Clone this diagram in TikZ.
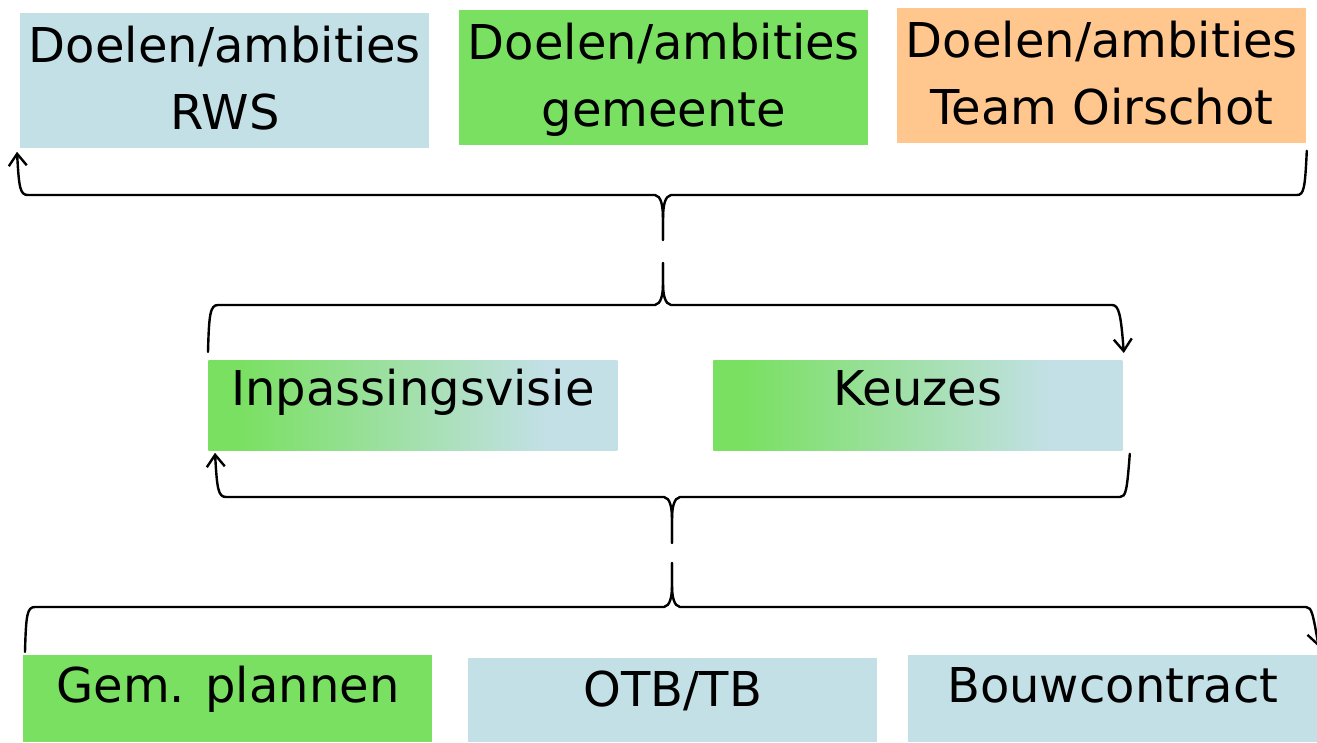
\documentclass[tikz,border=0pt]{standalone}
\usepackage{fontspec}
\setmainfont{DejaVu Sans}
\usetikzlibrary{arrows.meta}
\definecolor{rwsblue}{RGB}{194,224,229}
\definecolor{gemgreen}{RGB}{122,224,98}
\definecolor{teamorange}{RGB}{255,198,142}
\pgfdeclarehorizontalshading{greenblue}{100bp}{color(0bp)=(gemgreen); color(29bp)=(gemgreen); color(66bp)=(rwsblue); color(100bp)=(rwsblue)}

\begin{document}
\begin{tikzpicture}[x=0.5pt,y=-0.5pt,
  box/.style={anchor=north west, inner sep=0pt, align=center,
    font=\fontsize{24}{33.5}\selectfont, minimum width=204.5pt},
  goal/.style={box, minimum height=67.5pt, text depth=3pt},
  pick/.style={box, minimum height=45pt, shade, shading=greenblue, text height=18pt, text depth=18pt},
  plan/.style={box, minimum height=43.5pt, text height=12pt, text depth=8.5pt},
  line/.style={line width=1.2pt, line cap=round},
  >={Straight Barb[length=6pt,width=9pt]}]
\useasboundingbox (0,0) rectangle (1317,743);

% doelen
\node[goal, fill=rwsblue] (rws) at (20,13) {Doelen/ambities\\RWS};
\node[goal, fill=gemgreen] (gem) at (459,10) {Doelen/ambities\\gemeente};
\node[goal, fill=teamorange] (team) at (897,8) {Doelen/ambities\\Team Oirschot};

% visie en keuzes
\node[pick] (visie) at (208,360) {Inpassingsvisie};
\node[pick] (keuzes) at (713,360) {Keuzes};

% uitwerking
\node[plan, fill=gemgreen] (plannen) at (23,655) {Gem. plannen};
\node[plan, fill=rwsblue, minimum height=42pt, text height=12pt, text depth=6pt] (otb) at (468,658) {OTB/TB};
\node[plan, fill=rwsblue] (bouw) at (908,655) {Bouwcontract};

% eindpunten van de accolades
\coordinate (rwsin) at ([shift={(-3,3)}]rws.south west);
\coordinate (teamin) at ([shift={(0,7)}]team.south east);
\coordinate (tipa) at (663,240);
\coordinate (tipb) at (663,263);
\coordinate (visiein) at ([shift={(0,-8)}]visie.north west);
\coordinate (keuzesin) at ([shift={(1,-7)}]keuzes.north east);
\coordinate (visieout) at ([shift={(7,2)}]visie.south west);
\coordinate (keuzesout) at ([shift={(7,3)}]keuzes.south east);
\coordinate (tipc) at (672,543);
\coordinate (tipd) at (672,563);
\coordinate (planin) at ([shift={(2,-3)}]plannen.north west);
\coordinate (bouwin) at ([shift={(1,-8)}]bouw.north east);

% accolade boven
\draw[line,<-] (rwsin) .. controls (19,188) and (20,195) .. (28,195) -- (655,195)
  .. controls (661,196) and (663,205) .. (663,220) -- (tipa);
\draw[line] (tipa) -- (663,220) .. controls (663,205) and (665,196) .. (671,195) -- (1297,195)
  .. controls (1304,195) and (1305,188) .. (teamin);

% accolade midden
\draw[line] (visiein) .. controls (209,315) and (210,305) .. (218,305) -- (655,305)
  .. controls (661,304) and (663,295) .. (663,283) -- (tipb);
\draw[line,->] (tipb) -- (663,283) .. controls (663,295) and (665,304) .. (671,305) -- (1112,305)
  .. controls (1119,305) and (1121,315) .. (keuzesin);

% accolade onder
\draw[line,<-] (visieout) .. controls (217,488) and (218,497) .. (226,497) -- (664,497)
  .. controls (670,498) and (672,507) .. (672,520) -- (tipc);
\draw[line] (tipc) -- (672,520) .. controls (672,507) and (674,498) .. (680,497) -- (1120,497)
  .. controls (1126,497) and (1127,490) .. (keuzesout);

% accolade onderste rij
\draw[line] (planin) .. controls (26,615) and (27,607) .. (35,607) -- (664,607)
  .. controls (670,606) and (672,597) .. (672,585) -- (tipd);
\draw[line,->] (tipd) -- (672,585) .. controls (672,597) and (674,606) .. (680,607) -- (1306,607)
  .. controls (1312,607) and (1313,615) .. (bouwin);
\end{tikzpicture}
\end{document}
